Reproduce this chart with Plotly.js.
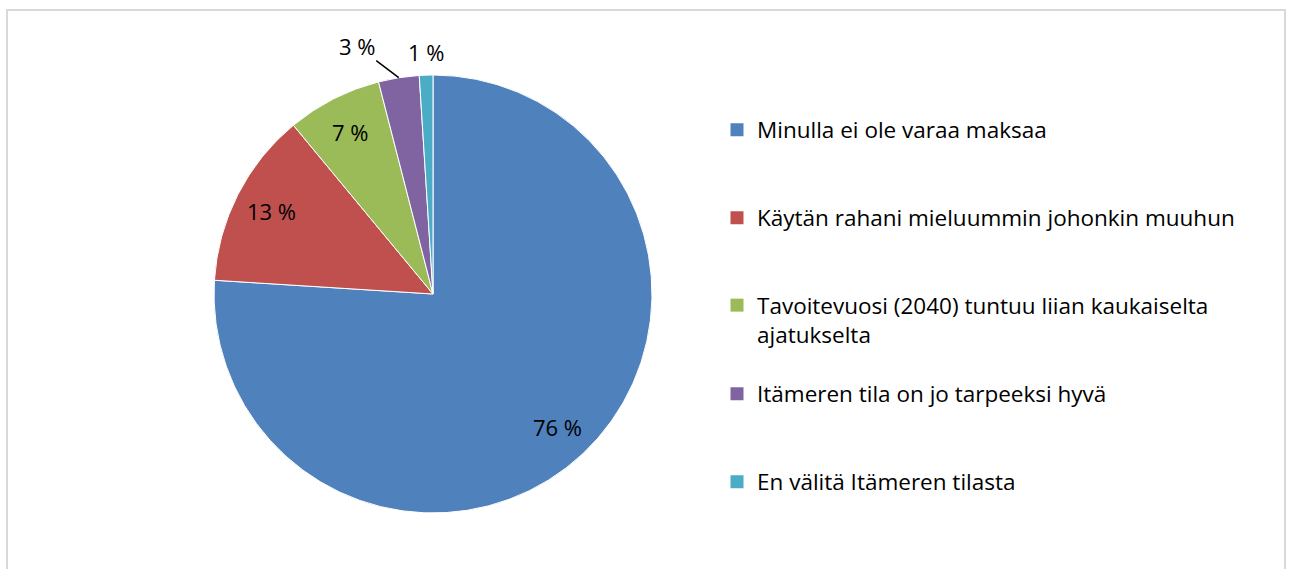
<!DOCTYPE html>
<html>
<head>
<meta charset="utf-8">
<script src="https://cdn.plot.ly/plotly-3.0.1.min.js"></script>
<style>
  html, body { margin: 0; padding: 0; background: #fff; }
  #wrap { position: relative; width: 1289px; height: 569px; overflow: hidden; }
  #frame { position: absolute; left: 6px; top: 9px; width: 1276px; height: 620px; border: 2px solid #d9d9d9; }
  #chart { position: absolute; left: 0; top: 0; width: 1289px; height: 569px; }
</style>
</head>
<body>
<div id="wrap">
  <div id="frame"></div>
  <div id="chart"></div>
</div>
<script>
const categories = [
  "Minulla ei ole varaa maksaa",
  "Käytän rahani mieluummin johonkin muuhun",
  "Tavoitevuosi (2040) tuntuu liian kaukaiselta<br>ajatukselta",
  "Itämeren tila on jo tarpeeksi hyvä",
  "En välitä Itämeren tilasta"
];
const values = [76, 13, 7, 3, 1];
const colors = ["#4F81BD", "#C0504D", "#9BBB59", "#8064A2", "#4BACC6"];
const labelInside = [true, true, true, false, false];

const FONT = "'Open Sans', 'Noto Sans', sans-serif";
const LEGEND_SIZE = 22.5;
const LABEL_SIZE = 22;
const W = 1289, H = 569;
const pieDomain = { x: [0.16602, 0.50582], y: [0.09842, 0.86819] };

const traces = [{
  type: "pie",
  labels: categories,
  values: values,
  sort: false,
  direction: "clockwise",
  rotation: 0,
  marker: { colors: colors, line: { color: "#ffffff", width: 1 } },
  textinfo: "none",
  hoverinfo: "label+percent",
  showlegend: false,
  automargin: false,
  domain: pieDomain
}];

const legendNames = ["legend", "legend2", "legend3", "legend4", "legend5"];
const legendY = [130, 218, 306, 394, 482];

categories.forEach(function (c, i) {
  traces.push({
    type: "scatter",
    mode: "markers",
    x: [null], y: [null],
    name: c,
    legend: legendNames[i],
    marker: { symbol: "square", size: 13, color: colors[i] },
    hoverinfo: "skip",
    showlegend: true
  });
});

// data labels placed at each slice's mid-angle (computed from the values)
const cx = (pieDomain.x[0] + pieDomain.x[1]) / 2 * W;
const cyUp = (pieDomain.y[0] + pieDomain.y[1]) / 2 * H;
const R = Math.min((pieDomain.x[1] - pieDomain.x[0]) * W, (pieDomain.y[1] - pieDomain.y[0]) * H) / 2;
const total = values.reduce(function (a, b) { return a + b; }, 0);
const annotations = [];
let cum = 0;
values.forEach(function (v, i) {
  const mid = (cum + v / 2) / total * 2 * Math.PI;
  cum += v;
  const s = Math.sin(mid), c = Math.cos(mid);
  if (labelInside[i]) {
    annotations.push({
      xref: "paper", yref: "paper",
      x: (cx + 0.83 * R * s) / W, y: (cyUp + 0.83 * R * c) / H,
      text: v + " %", showarrow: false,
      xanchor: "center", yanchor: "middle",
      font: { family: FONT, size: LABEL_SIZE, color: "#000000" }
    });
  } else {
    const edgeX = (cx + R * s) / W, edgeY = (cyUp + R * c) / H;
    const leader = (i === 3);
    annotations.push({
      xref: "paper", yref: "paper",
      x: edgeX, y: edgeY,
      text: v + " %",
      showarrow: true, arrowhead: 0, arrowwidth: 1.5,
      arrowcolor: leader ? "#000000" : "rgba(0,0,0,0)",
      standoff: 0, startstandoff: 0,
      ax: leader ? -42 : 0, ay: leader ? -32 : -23,
      font: { family: FONT, size: LABEL_SIZE, color: "#000000" }
    });
  }
});

const layout = {
  width: W,
  height: H,
  margin: { l: 0, r: 0, t: 0, b: 0 },
  paper_bgcolor: "rgba(0,0,0,0)",
  plot_bgcolor: "rgba(0,0,0,0)",
  font: { family: FONT, size: LEGEND_SIZE, color: "#000000" },
  xaxis: { visible: false, domain: [0.99, 1] },
  yaxis: { visible: false, domain: [0.99, 1] },
  showlegend: true,
  annotations: annotations
};

legendNames.forEach(function (ln, i) {
  layout[ln] = {
    x: 717 / W,
    xanchor: "left",
    y: 1 - legendY[i] / H,
    yanchor: "middle",
    valign: "top",
    bgcolor: "rgba(0,0,0,0)",
    borderwidth: 0,
    font: { family: FONT, size: LEGEND_SIZE, color: "#000000" }
  };
});
layout.legend3.yanchor = "top";
layout.legend3.y = 1 - (legendY[2] - 22) / H;

Plotly.newPlot("chart", traces, layout, { staticPlot: true });
</script>
</body>
</html>
